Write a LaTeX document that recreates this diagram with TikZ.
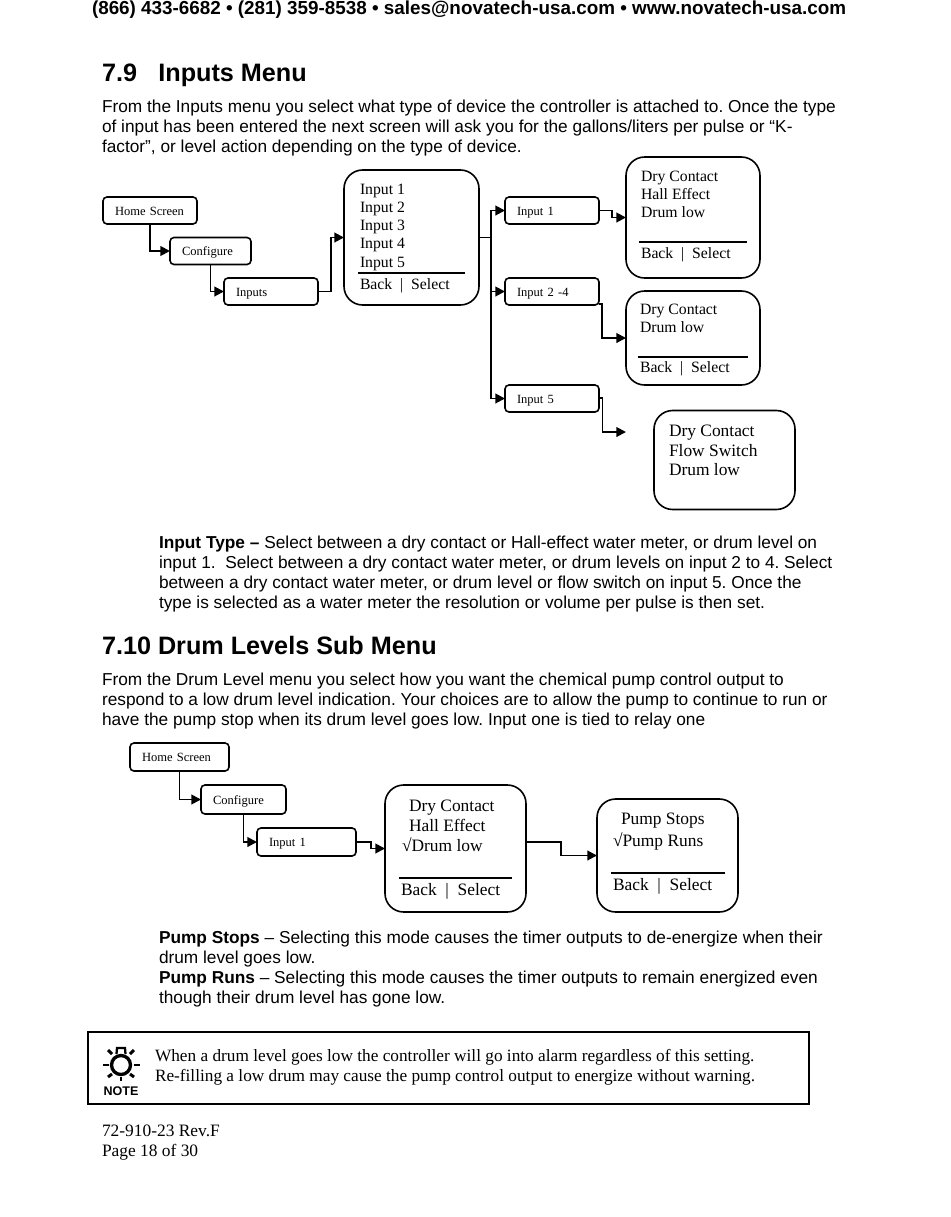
\documentclass[tikz,border=0pt]{standalone}
\usepackage{fontspec}
\setmainfont{Liberation Serif}
\newfontfamily\arial{Liberation Sans}
\usetikzlibrary{arrows.meta}
\frenchspacing
\newcounter{tn}
\newcommand\txt[4]{\stepcounter{tn}\node[#1] (t\arabic{tn}) at (#2,#3) {#4};}
\tikzset{
  x=0.75pt,y=-0.75pt,
  base/.style={anchor=base west,inner sep=0pt,outer sep=0pt,text=black},
  body/.style={base,font=\arial\fontsize{12.96}{15}\selectfont},
  head/.style={base,font=\arial\bfseries\fontsize{18.9}{22}\selectfont},
  top/.style={base,font=\arial\bfseries\fontsize{14.14}{16}\selectfont},
  md/.style={base,font=\fontsize{11.8}{13}\selectfont},
  lg/.style={base,font=\fontsize{13.05}{15}\selectfont},
  nt/.style={base,font=\fontsize{12.95}{15}\selectfont},
  ft/.style={base,font=\fontsize{13.05}{15}\selectfont},
  sbox/.style={draw=black,line width=1.2pt,rounded corners=3pt,inner sep=0pt,outer sep=0pt,font=\fontsize{9.4}{11}\selectfont,align=left,text height=9pt,text depth=2pt},
  bbox/.style={draw=black,line width=1.2pt,rounded corners=14pt,inner sep=0pt,outer sep=0pt},
  rule/.style={line width=1.6pt,black},
  conn/.style={line width=1.45pt,black},
  arr/.style={conn,-{Triangle[length=7.2pt,width=7.2pt]}},
  ray/.style={line width=2.2pt,black}
}
\newcommand\sbx[6]{\node[sbox,minimum width=#4*0.75pt,minimum height=#5*0.75pt,text width=(#4-24)*0.75pt] (#1) at (#2,#3) {#6};}
\begin{document}
\begin{tikzpicture}
\useasboundingbox (0,0) rectangle (950,1217);
\fill[white] (0,0) rectangle (950,1217);
% page text
\txt{top}{92}{14}{(866) 433-6682 • (281) 359-8538 • sales@novatech-usa.com • www.novatech-usa.com}
\txt{head}{102}{81}{7.9\hspace{16pt}Inputs Menu}
\txt{body}{102}{112}{From the Inputs menu you select what type of device the controller is attached to. Once the type}
\txt{body}{102}{132}{of input has been entered the next screen will ask you for the gallons/liters per pulse or “K-}
\txt{body}{102}{152}{factor”, or level action depending on the type of device.}
\txt{body}{159}{548}{\textbf{Input Type –} Select between a dry contact or Hall-effect water meter, or drum level on}
\txt{body}{159}{568}{input 1.\ \ Select between a dry contact water meter, or drum levels on input 2 to 4. Select}
\txt{body}{159}{588}{between a dry contact water meter, or drum level or flow switch on input 5. Once the}
\txt{body}{159}{608}{type is selected as a water meter the resolution or volume per pulse is then set.}
\txt{head}{102}{654}{7.10 Drum Levels Sub Menu}
\txt{body}{102}{685}{From the Drum Level menu you select how you want the chemical pump control output to}
\txt{body}{102}{705}{respond to a low drum level indication. Your choices are to allow the pump to continue to run or}
\txt{body}{102}{725}{have the pump stop when its drum level goes low. Input one is tied to relay one}
\txt{body}{159}{943}{\textbf{Pump Stops} – Selecting this mode causes the timer outputs to de-energize when their}
\txt{body}{159}{963}{drum level goes low.}
\txt{body}{159}{983}{\textbf{Pump Runs} – Selecting this mode causes the timer outputs to remain energized even}
\txt{body}{159}{1003}{though their drum level has gone low.}
% diagram 1 boxes
\sbx{home}{150}{210.5}{94}{27}{Home Screen}
\sbx{conf}{210.5}{251}{81}{27}{Configure}
\sbx{inp}{271}{291.5}{94}{27}{Inputs}
\node[bbox,minimum width=135*0.75pt,minimum height=135*0.75pt] (menu) at (411.5,237.5) {};
\sbx{ia}{552}{210.5}{94}{27}{Input 1}
\sbx{ib}{552}{291.5}{94}{27}{Input 2 -4}
\sbx{ic}{552}{398.5}{94}{27}{Input 5}
\node[bbox,minimum width=134*0.75pt,minimum height=121*0.75pt] (ba) at (693,217.5) {};
\node[bbox,minimum width=134*0.75pt,minimum height=94*0.75pt] (bb) at (693,338) {};
\node[bbox,minimum width=141*0.75pt,minimum height=99*0.75pt] (bc) at (724.5,460) {};
% menu text
\txt{md}{360}{194}{Input 1}
\txt{md}{360}{212}{Input 2}
\txt{md}{360}{230.5}{Input 3}
\txt{md}{360}{248.5}{Input 4}
\txt{md}{360}{267}{Input 5}
\txt{md}{360}{289}{Back\ \ |\ \ Select}
\draw[rule] (358,273) -- (465,273);
\txt{md}{641}{181.5}{Dry Contact}
\txt{md}{641}{199.5}{Hall Effect}
\txt{md}{641}{217}{Drum low}
\draw[rule] (639,242) -- (747,242);
\txt{md}{641}{258}{Back\ \ |\ \ Select}
\txt{md}{640}{314}{Dry Contact}
\txt{md}{640}{332}{Drum low}
\draw[rule] (638,357) -- (748,357);
\txt{md}{640}{372}{Back\ \ |\ \ Select}
\txt{lg}{669}{436}{Dry Contact}
\txt{lg}{669}{456}{Flow Switch}
\txt{lg}{669}{475}{Drum low}
% diagram 1 connectors
\coordinate (m1) at (331,291.5);
\coordinate (j1) at (491,237.5);
\coordinate (a1) at (612,210.5);
\coordinate (a2) at (612,217.5);
\coordinate (b0) at (599,304);
\coordinate (b1) at (602,304);
\coordinate (c0) at (599,398);
\coordinate (c1) at (602.5,398);
\coordinate (c2) at (626,432);
\draw[arr] (home.south) |- (conf.west);
\draw[arr] (conf.south) |- (inp.west);
\draw[arr] (inp.east) -- (m1) |- (menu.west);
\draw[conn] (menu.east) -- (j1);
\draw[arr] (j1) |- (ia.west);
\draw[arr] (j1) |- (ib.west);
\draw[arr] (j1) |- (ic.west);
\draw[arr] (ia.east) -- (a1) -- (a2) -- (ba.west);
\draw[arr] (b0) -- (b1) |- (bb.west);
\draw[arr] (c0) -- (c1) |- (c2);
% diagram 2 boxes
\sbx{homeb}{179.5}{757}{99}{28}{Home Screen}
\sbx{confb}{243.5}{799.5}{85}{29}{Configure}
\sbx{inpb}{306.5}{842}{99}{28}{Input 1}
\node[bbox,minimum width=141*0.75pt,minimum height=127*0.75pt] (da) at (455.5,848.5) {};
\node[bbox,minimum width=141*0.75pt,minimum height=113*0.75pt] (db) at (667.5,855.5) {};
\txt{lg}{409}{811}{Dry Contact}
\txt{lg}{409}{831}{Hall Effect}
\txt{lg}{402}{851}{√Drum low}
\draw[rule] (399,878) -- (512,878);
\txt{lg}{401}{895}{Back\ \ |\ \ Select}
\txt{lg}{621}{824}{Pump Stops}
\txt{lg}{613}{846}{√Pump Runs}
\draw[rule] (611,873) -- (725,873);
\txt{lg}{613}{890}{Back\ \ |\ \ Select}
\coordinate (e1) at (371,842);
\coordinate (e2) at (371,848.5);
\coordinate (f0) at (526,842);
\coordinate (f1) at (561,842);
\draw[arr] (homeb.south) |- (confb.west);
\draw[arr] (confb.south) |- (inpb.west);
\draw[arr] (inpb.east) -- (e1) -- (e2) -- (da.west);
\draw[arr] (f0) -- (f1) |- (db.west);
% note
\node[draw=black,line width=1.1pt,inner sep=0pt,minimum width=721*0.75pt,minimum height=72*0.75pt] (notebox) at (448.5,1068) {};
\draw[line width=2.5pt,black] (121,1065) circle[radius=9.5];
\draw[line width=1.7pt,black] (116.5,1054) -- (117,1048) -- (125,1048) -- (125.5,1054);
\draw[ray] (103,1065) -- (108.5,1065);
\draw[ray] (134,1065) -- (140,1065);
\draw[ray] (108,1050) -- (112,1054);
\draw[ray] (134,1050) -- (130,1054);
\draw[ray] (108,1077) -- (112,1074);
\draw[ray] (134,1077) -- (130,1074);
\draw[ray] (121,1077) -- (121,1081);
\node[inner sep=0pt,font=\arial\bfseries\fontsize{9.4}{10}\selectfont] (notelabel) at (121,1091) {NOTE};
\txt{nt}{155}{1061}{When a drum level goes low the controller will go into alarm regardless of this setting.}
\txt{nt}{155}{1081}{Re-filling a low drum may cause the pump control output to energize without warning.}
\txt{ft}{102}{1136}{72-910-23 Rev.F}
\txt{ft}{102}{1156}{Page 18 of 30}
\end{tikzpicture}
\end{document}
